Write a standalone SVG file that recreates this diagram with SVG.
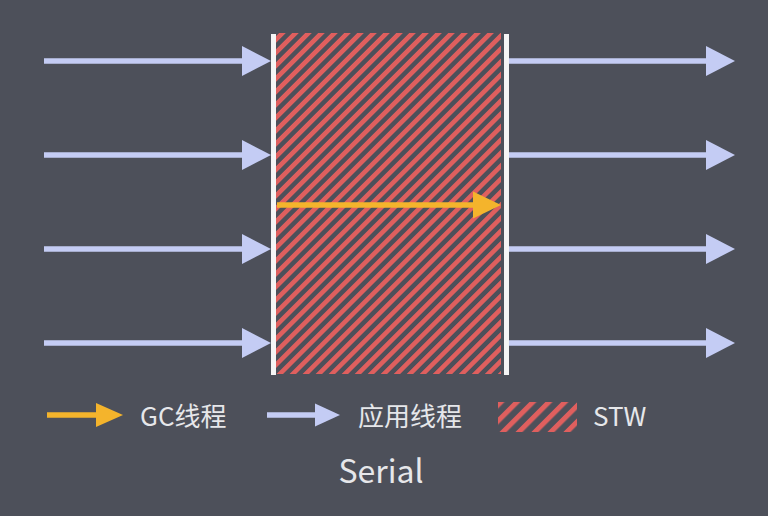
<svg xmlns="http://www.w3.org/2000/svg" width="768" height="516" viewBox="0 0 768 516">
  <style>
    .app { stroke: #c4ccf4; stroke-width: 5.5; fill: none; }
    .gc { stroke: #f4b42c; stroke-width: 5.5; fill: none; }
    .bar { stroke: #f5f5f5; stroke-width: 5; }
    .lbl { font-family: "Noto Sans CJK SC", "Liberation Sans", sans-serif; fill: #e6e7ea; font-size: 26px; }
  </style>
  <defs>
    <marker id="headApp" markerUnits="userSpaceOnUse" markerWidth="30" markerHeight="31" refX="0" refY="15" orient="auto" overflow="visible">
      <path d="M0,0 L29,15 L0,30 Z" fill="#c4ccf4"/>
    </marker>
    <marker id="headGc" markerUnits="userSpaceOnUse" markerWidth="30" markerHeight="28" refX="0" refY="13.5" orient="auto" overflow="visible">
      <path d="M0,0 L28,13.5 L0,27 Z" fill="#f4b42c"/>
    </marker>
    <marker id="headAppS" markerUnits="userSpaceOnUse" markerWidth="26" markerHeight="24" refX="0" refY="11.5" orient="auto" overflow="visible">
      <path d="M0,0 L25,11.5 L0,23 Z" fill="#c4ccf4"/>
    </marker>
    <marker id="headGcS" markerUnits="userSpaceOnUse" markerWidth="28" markerHeight="25" refX="0" refY="12" orient="auto" overflow="visible">
      <path d="M0,0 L27,12 L0,24 Z" fill="#f4b42c"/>
    </marker>
    <pattern id="hatch" patternUnits="userSpaceOnUse" width="9.2" height="20" patternTransform="rotate(45)">
      <rect x="0" y="0" width="9.2" height="20" fill="#4d505a"/>
      <rect x="0" y="0" width="4.6" height="20" fill="#df5f5e"/>
    </pattern>
    <pattern id="hatchS" patternUnits="userSpaceOnUse" width="11.3" height="20" patternTransform="translate(500,0) rotate(45)">
      <rect x="0" y="0" width="5" height="20" fill="#df5f5e"/>
    </pattern>
  </defs>

  <rect x="0" y="0" width="768" height="516" fill="#4d505a"/>

  <g id="stw-region">
    <rect x="276" y="33" width="225" height="341" fill="url(#hatch)"/>
  </g>
  <g id="bars">
    <line class="bar" x1="273.5" y1="34" x2="273.5" y2="375"/>
    <line class="bar" x1="506.5" y1="34" x2="506.5" y2="375"/>
  </g>

  <g id="connectors">
    <line class="app" x1="44" y1="61" x2="242" y2="61" marker-end="url(#headApp)"/>
    <line class="app" x1="44" y1="155" x2="242" y2="155" marker-end="url(#headApp)"/>
    <line class="app" x1="44" y1="249" x2="242" y2="249" marker-end="url(#headApp)"/>
    <line class="app" x1="44" y1="343" x2="242" y2="343" marker-end="url(#headApp)"/>
    <line class="app" x1="509" y1="61" x2="706" y2="61" marker-end="url(#headApp)"/>
    <line class="app" x1="509" y1="155" x2="706" y2="155" marker-end="url(#headApp)"/>
    <line class="app" x1="509" y1="249" x2="706" y2="249" marker-end="url(#headApp)"/>
    <line class="app" x1="509" y1="343" x2="706" y2="343" marker-end="url(#headApp)"/>
    <line class="gc" x1="277" y1="205" x2="473" y2="205" marker-end="url(#headGc)"/>
  </g>

  <g id="legend">
    <g id="legend-gc">
      <line class="gc" x1="47" y1="415" x2="96" y2="415" marker-end="url(#headGcS)"/>
      <text class="lbl" x="140" y="426">GC线程</text>
    </g>
    <g id="legend-app">
      <line class="app" x1="267" y1="415" x2="315" y2="415" marker-end="url(#headAppS)"/>
      <text class="lbl" x="358" y="426">应用线程</text>
    </g>
    <g id="legend-stw">
      <rect x="498" y="402" width="79" height="30" fill="url(#hatchS)"/>
      <text class="lbl" x="593" y="426">STW</text>
    </g>
  </g>

  <text id="title" class="lbl" x="381" y="483" text-anchor="middle" style="font-size:32px">Serial</text>
</svg>
